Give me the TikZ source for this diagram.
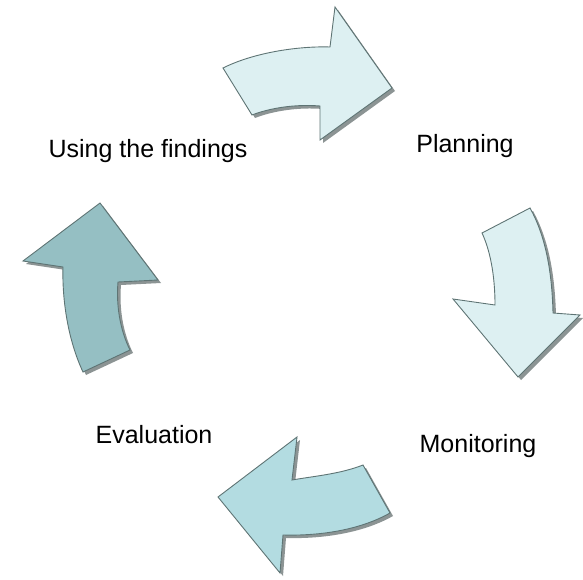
\documentclass[tikz,border=0pt]{standalone}
\usepackage{fontspec}
\setmainfont{Liberation Sans}
\usepackage{tikz}

\definecolor{palecyan}{HTML}{DDF0F2}
\definecolor{midcyan}{HTML}{B3DCE1}
\definecolor{darkcyan}{HTML}{95BFC3}
\definecolor{edgegray}{HTML}{5E7474}
\definecolor{shadowgray}{HTML}{8C9494}

\begin{document}
\begin{tikzpicture}[x=1pt, y=-1pt,
	bigarrow/.style={draw=edgegray, line width=0.9pt, line join=miter,
		preaction={fill=shadowgray, transform canvas={shift={(3pt,-3pt)}}}},
	label/.style={font=\fontsize{25}{30}\selectfont, anchor=base, inner sep=0pt}]
	\useasboundingbox (0,0) rectangle (583,580);
	% planning arrow
	\draw[bigarrow, fill=palecyan] (223,68) .. controls (255,52) and (300,46) .. (330,47)
		-- (335,7) -- (392,88) -- (320,140) -- (320,106)
		.. controls (295,104) and (270,108) .. (252,115) -- cycle;
	% monitoring arrow
	\draw[bigarrow, fill=palecyan] (482,233) -- (530,208)
		.. controls (545,235) and (552,270) .. (553,313)
		-- (580,315) -- (518,377) -- (453,299) -- (495,305)
		.. controls (495,275) and (490,250) .. (482,233) -- cycle;
	% evaluation arrow
	\draw[bigarrow, fill=midcyan] (363,465) -- (390,513)
		.. controls (360,530) and (320,536) .. (283,535)
		-- (280,573) -- (218,497) -- (297,437) -- (292,480)
		.. controls (315,476) and (340,474) .. (363,465) -- cycle;
	% findings arrow
	\draw[bigarrow, fill=darkcyan] (130,350) -- (83,372)
		.. controls (68,340) and (62,300) .. (63,267)
		-- (23,261) -- (100,203) -- (158,280) -- (118,282)
		.. controls (116,305) and (120,330) .. (130,350) -- cycle;
	% labels
	\node[label] (findings) at (148,158) {Using the findings};
	\node[label] (planning) at (465,153) {Planning};
	\node[label] (evaluation) at (154,443) {Evaluation};
	\node[label] (monitoring) at (478,452) {Monitoring};
\end{tikzpicture}
\end{document}
